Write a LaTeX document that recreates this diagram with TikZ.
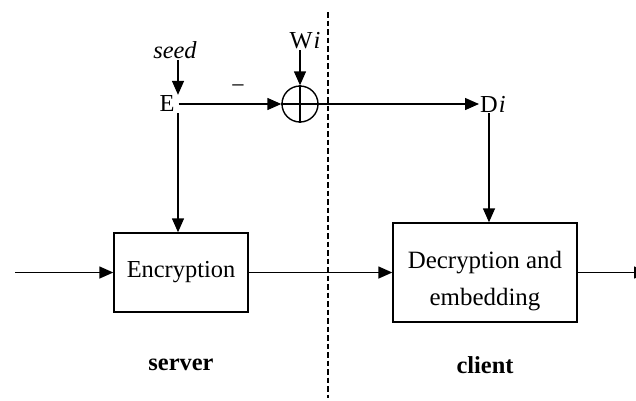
\documentclass[tikz,border=0pt]{standalone}
\usepackage{fontspec}
\setmainfont{Liberation Serif}
\usetikzlibrary{arrows.meta}
\begin{document}
\begin{tikzpicture}[x=1bp,y=-1bp,
  every node/.style={font=\fontsize{24.5}{28}\selectfont},
  conn/.style={line width=1.4bp},
  arr/.style={conn,-{Triangle[length=14bp,width=12bp]}},
  blockbox/.style={draw,line width=1.4bp,rectangle,inner sep=0pt},
  sumnode/.style={draw,circle,line width=1.4bp,minimum size=36bp,inner sep=0pt}]
\useasboundingbox (0,0) rectangle (636,400);
\clip (0,0) rectangle (636,400);
% nodes
\node[inner sep=1bp] (seed) at (175,50) {\textit{seed}};
\node[inner sep=1bp] (E) at (167,104) {E};
\coordinate (ej) at (178,104);
\node (minus) at (238,89) {−};
\node[sumnode] (sum) at (300,104) {};
\node[inner sep=1bp] (W) at (305,41) {W\kern1bp\textit{i}};
\node[inner sep=1bp,anchor=west] (D) at (479,104) {D\kern1bp\textit{i}};
\coordinate (dj) at (489,104);
\node[blockbox,minimum width=134bp,minimum height=79bp] (enc) at (181,272.5) {Encryption};
\node[blockbox,minimum width=184bp,minimum height=99bp] (dec) at (485,272.5) {};
\node[align=center,font=\fontsize{25}{37}\selectfont] (dectext) at (485,281) {Decryption and\\embedding};
\node[font=\fontsize{24.5}{28}\selectfont\bfseries] (server) at (181,365) {server};
\node[font=\fontsize{24.5}{28}\selectfont\bfseries] (client) at (485,365) {client};
\coordinate (in) at (15,272.5);
\coordinate (out) at (648,272.5);
\coordinate (dtop) at (328,12);
\coordinate (dbot) at (328,398);
% sum cross
\draw[conn] (sum.north) -- (sum.south) (sum.west) -- (sum.east);
% connectors
\draw[arr] (seed.south -| ej) -- (E.north -| ej);
\draw[arr] (W.south -| sum) -- (sum.north);
\draw[arr] (E.east) ++(3bp,0) -- (sum.west);
\draw[arr] (sum.east) -- (D.west);
\draw[arr] (E.south -| ej) -- (enc.north -| ej);
\draw[arr] (D.south -| dj) -- (dec.north -| dj);
\draw[arr] (in) -- (enc.west);
\draw[arr] (enc.east) -- (dec.west);
\draw[arr] (dec.east) -- (out);
% divider
\draw[line width=1.4bp,dash pattern=on 5.5bp off 3bp] (dtop) -- (dbot);
\end{tikzpicture}
\end{document}
